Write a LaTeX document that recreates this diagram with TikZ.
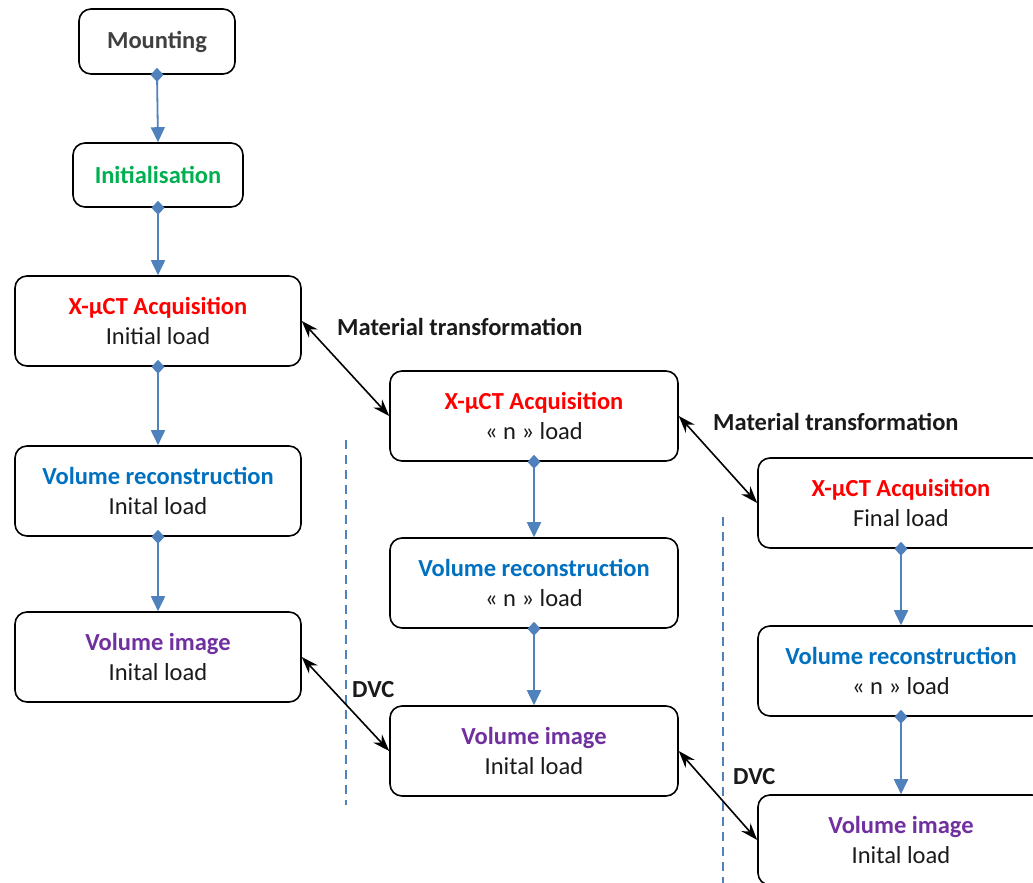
\documentclass[tikz,border=0pt]{standalone}
\usepackage{fontspec}
\setmainfont{Carlito}
\usetikzlibrary{arrows.meta}
\definecolor{flowblue}{HTML}{4F81BD}
\definecolor{tgray}{HTML}{404040}
\definecolor{tgreen}{HTML}{00B050}
\definecolor{tred}{HTML}{FF0000}
\definecolor{tblue}{HTML}{0070C0}
\definecolor{tpurple}{HTML}{7030A0}
\definecolor{tdark}{HTML}{1A1A1A}
\tikzset{
  box/.style={draw=black, line width=1.6pt, rounded corners=12pt, fill=white,
    align=center, font=\fontsize{24.5}{30}\selectfont, text=tdark, inner sep=0pt},
  bigbox/.style={box, minimum width=286pt, minimum height=90pt},
  flow/.style={draw=flowblue, line width=1.8pt, shorten <=-7pt,
    {Diamond[length=14pt,width=13pt]}-{Triangle[length=15pt,width=14pt]}},
  link/.style={draw=black, line width=1.6pt,
    {Stealth[length=17pt,width=12pt]}-{Stealth[length=17pt,width=12pt]}},
  sep/.style={draw=flowblue, line width=1.6pt, dash pattern=on 9pt off 6pt},
  lbl/.style={font=\fontsize{24.5}{28}\selectfont\bfseries, text=tdark, anchor=west, inner sep=0pt}
}
\begin{document}
\begin{tikzpicture}[x=1pt,y=-1pt]
\useasboundingbox (0,0) rectangle (1033,883);
\clip (0,0) rectangle (1033,883);
\fill[white] (0,0) rectangle (1033,883);
% separators
\draw[sep] (346,440) -- (346,805);
\draw[sep] (723,517) -- (723,883);
% column 1
\node[box, minimum width=156pt, minimum height=65pt] (mount) at (157,41.5) {\textbf{\color{tgray}Mounting}};
\node[box, minimum width=170pt, minimum height=64pt] (init) at (158,175) {\textbf{\color{tgreen}Initialisation}};
\node[bigbox] (acqa) at (158,321) {\textbf{\color{tred}X-µCT Acquisition}\\Initial load};
\node[bigbox] (reca) at (158,491) {\textbf{\color{tblue}Volume reconstruction}\\Inital load};
\node[bigbox] (vola) at (158,657) {\textbf{\color{tpurple}Volume image}\\Inital load};
% column 2
\node[bigbox, minimum width=288pt] (acqb) at (534,416) {\textbf{\color{tred}X-µCT Acquisition}\\« n » load};
\node[bigbox, minimum width=288pt] (recb) at (534,583) {\textbf{\color{tblue}Volume reconstruction}\\« n » load};
\node[bigbox, minimum width=288pt] (volb) at (534,751) {\textbf{\color{tpurple}Volume image}\\Inital load};
% column 3
\node[bigbox, minimum width=286pt] (acqc) at (901,503) {\textbf{\color{tred}X-µCT Acquisition}\\Final load};
\node[bigbox, minimum width=286pt] (recc) at (901,671) {\textbf{\color{tblue}Volume reconstruction}\\« n » load};
\node[bigbox, minimum width=286pt] (volc) at (901,840) {\textbf{\color{tpurple}Volume image}\\Inital load};
% flow arrows
\draw[flow] (mount.south) -- (init.north);
\draw[flow] (init.south) -- (acqa.north);
\draw[flow] (acqa.south) -- (reca.north);
\draw[flow] (reca.south) -- (vola.north);
\draw[flow] (acqb.south) -- (recb.north);
\draw[flow] (recb.south) -- (volb.north);
\draw[flow] (acqc.south) -- (recc.north);
\draw[flow] (recc.south) -- (volc.north);
% links
\draw[link] (acqa.east) -- (acqb.west);
\draw[link] (acqb.east) -- (acqc.west);
\draw[link] (vola.east) -- (volb.west);
\draw[link] (volb.east) -- (volc.west);
% labels
\node[lbl] (mt1) at (337,327) {Material transformation};
\node[lbl] (mt2) at (713,422) {Material transformation};
\node[lbl] (dvc1) at (352,690) {DVC};
\node[lbl] (dvc2) at (733,777) {DVC};
\end{tikzpicture}
\end{document}
